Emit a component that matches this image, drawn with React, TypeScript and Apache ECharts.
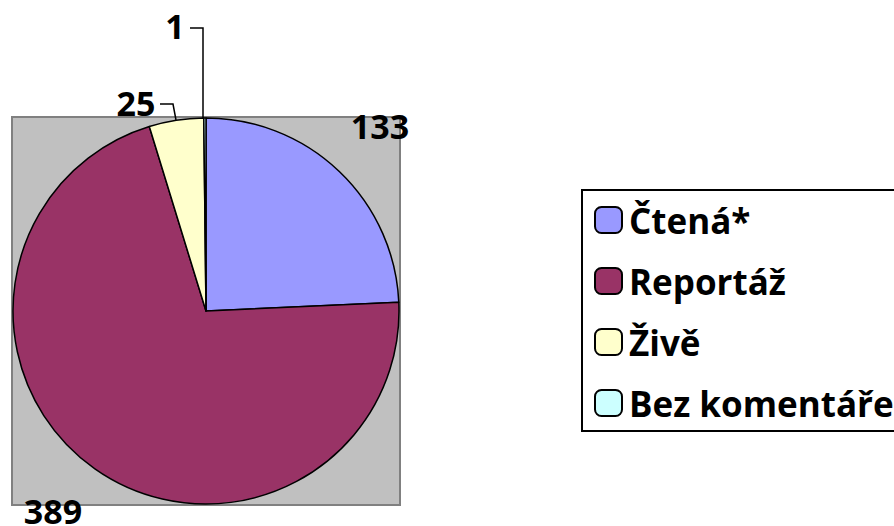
import React, { useEffect, useRef } from "react";
import * as echarts from "echarts";

const categories = ["Čtená*", "Reportáž", "Živě", "Bez komentáře"];
const values = [133, 389, 25, 1];
const colors = ["#9999FF", "#993366", "#FFFFCC", "#CCFFFF"];

const FONT = "'Open Sans', 'Noto Sans', sans-serif";

export default function App() {
  const ref = useRef<HTMLDivElement>(null);
  useEffect(() => {
    if (!ref.current) return;
    const chart = echarts.init(ref.current, undefined, { renderer: "svg" });
    const labelSpots: any[] = [
      { x: 380, y: 126, line: null },
      { x: 53, y: 511, line: null },
      { x: 136, y: 103, line: [[160, 104], [173, 104], [176, 120]] },
      { x: 175, y: 26, line: [[190, 28], [203, 28], [203, 118]] },
    ];
    chart.setOption({
      animation: false,
      graphic: [
        {
          type: "rect",
          z: -10,
          shape: { x: 12, y: 117, width: 388, height: 388 },
          style: { fill: "#C0C0C0", stroke: "#808080", lineWidth: 2 },
        },
      ],
      legend: {
        orient: "vertical",
        left: 582,
        top: 190,
        padding: [10, 14, 8, 12],
        itemGap: 21,
        itemWidth: 27,
        itemHeight: 26,
        borderColor: "#000",
        borderWidth: 2,
        backgroundColor: "#fff",
        data: categories,
        itemStyle: { borderColor: "#000", borderWidth: 2 },
        textStyle: {
          fontFamily: FONT,
          fontWeight: "bold",
          fontSize: 35,
          color: "#000",
          lineHeight: 40,
          padding: [0, 0, 0, 2],
        },
      },
      series: [
        {
          type: "pie",
          center: [206, 311],
          radius: 193,
          startAngle: 90,
          clockwise: true,
          avoidLabelOverlap: false,
          itemStyle: { borderColor: "#000", borderWidth: 1.5 },
          label: {
            show: true,
            position: "outside",
            formatter: "{c}",
            fontFamily: FONT,
            fontWeight: "bold",
            fontSize: 34,
            color: "#000",
          },
          labelLine: {
            show: true,
            length: 10,
            length2: 10,
            smooth: false,
            lineStyle: { color: "#000", width: 1.5 },
          },
          emphasis: { disabled: true },
          labelLayout: (params: any) => {
            const s = labelSpots[params.dataIndex];
            const out: any = { x: s.x, y: s.y, align: "center", verticalAlign: "middle" };
            if (s.line) out.labelLinePoints = s.line;
            return out;
          },
          data: categories.map((name, i) => ({
            name,
            value: values[i],
            itemStyle: { color: colors[i] },
            labelLine: { show: i >= 2 },
          })),
        },
      ],
    });
    return () => chart.dispose();
  }, []);
  return (
    <div
      ref={ref}
      style={{ position: "absolute", left: 0, top: 0, width: 894, height: 526 }}
    />
  );
}
